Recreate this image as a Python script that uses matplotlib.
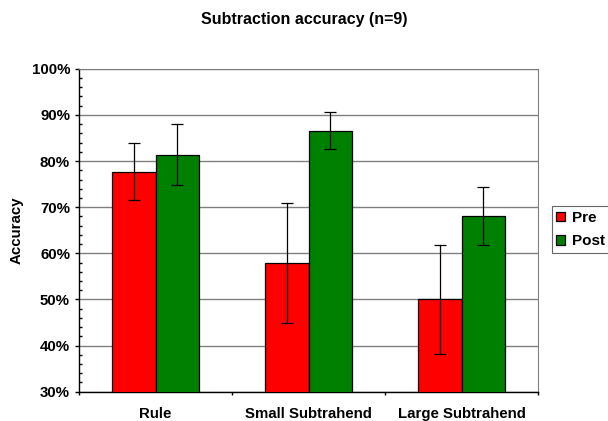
import matplotlib
matplotlib.use("Agg")
import matplotlib.pyplot as plt
import numpy as np
from matplotlib.ticker import MultipleLocator, FixedLocator, NullFormatter, PercentFormatter

categories = ["Rule", "Small Subtrahend", "Large Subtrahend"]
pre = [77.7, 57.8, 50.0]
pre_err = [6.2, 13.0, 11.8]
post = [81.4, 86.6, 68.0]
post_err = [6.7, 4.0, 6.3]
series_names = ["Pre", "Post"]

plt.rcParams['font.family'] = ['Liberation Sans', 'DejaVu Sans']
plt.rcParams['font.weight'] = 'bold'

fig = plt.figure(figsize=(6.08, 4.21), dpi=100)
ax = fig.add_axes([0.130, 0.0696, 0.755, 0.767])

x = np.arange(len(categories))
w = 0.284
ekw = dict(ecolor='black', elinewidth=0.9, capsize=4, capthick=0.9)
b1 = ax.bar(x - w/2, pre, w, bottom=0, color='#ff0000', edgecolor='black', linewidth=0.9,
            yerr=pre_err, error_kw=ekw, zorder=3, label=series_names[0])
b2 = ax.bar(x + w/2, post, w, bottom=0, color='#008000', edgecolor='black', linewidth=0.9,
            yerr=post_err, error_kw=ekw, zorder=3, label=series_names[1])

ax.set_xlim(-0.5, len(categories) - 0.5)
ax.set_ylim(30, 100)
ax.yaxis.set_major_locator(MultipleLocator(10))
ax.yaxis.set_minor_locator(MultipleLocator(2))
ax.yaxis.set_major_formatter(PercentFormatter(decimals=0))
ax.grid(axis='y', which='major', color='#808080', linewidth=1.0, zorder=0)

ax.xaxis.set_major_locator(FixedLocator(np.arange(-0.5, len(categories), 1.0)))
ax.xaxis.set_major_formatter(NullFormatter())
ax.xaxis.set_minor_locator(FixedLocator(x))
ax.set_xticklabels(categories, minor=True)
ax.tick_params(axis='x', which='minor', length=0, pad=11, labelsize=10.8)
ax.tick_params(axis='x', which='major', direction='out', length=2.5, width=1)
ax.tick_params(axis='y', which='major', direction='out', length=3, width=1, labelsize=10.8, pad=3.5)
ax.tick_params(axis='y', which='minor', direction='in', length=2, width=1)
for lbl in ax.get_xticklabels(minor=True) + ax.get_yticklabels():
    lbl.set_fontweight('bold')

for s in ['top', 'right']:
    ax.spines[s].set_color('#808080')
for s in ['left', 'bottom']:
    ax.spines[s].set_color('black')
    ax.spines[s].set_linewidth(1.0)

ax.set_ylabel("Accuracy", fontsize=10.8, fontweight='bold', labelpad=6)
fig.suptitle("Subtraction accuracy (n=9)", fontsize=11.5, fontweight='bold', y=0.972)

leg = fig.legend(handles=[b1, b2], labels=series_names, loc='center left',
                 bbox_to_anchor=(552/608, 1 - 229.5/421), fontsize=11, frameon=True,
                 fancybox=False, edgecolor='#404040', handlelength=0.6, handleheight=0.6,
                 handletextpad=0.4, borderpad=0.28, labelspacing=0.62, borderaxespad=0)
leg.get_frame().set_linewidth(0.8)
for t in leg.get_texts():
    t.set_fontweight('bold')

fig.savefig("out.png", dpi=100)
